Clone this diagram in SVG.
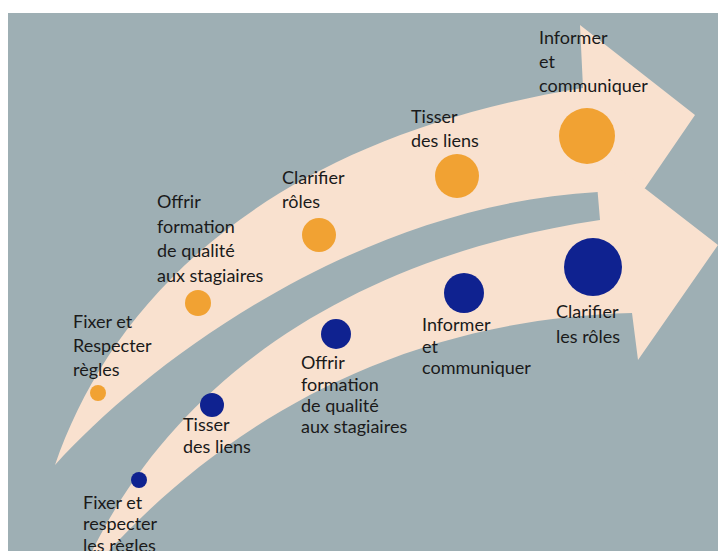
<svg xmlns="http://www.w3.org/2000/svg" width="718" height="551" viewBox="0 0 718 551">
<style>
.bg{fill:#9eafb4}
.arrow{fill:#f9e1cf}
.o{fill:#f1a233}
.n{fill:#0f2290}
text{font-family:Lato,"Open Sans","DejaVu Sans",sans-serif;font-size:18px;fill:#1a1a1a}
</style>
<rect x="0" y="0" width="718" height="551" fill="#ffffff"/>
<rect class="bg" x="8" y="13" width="710" height="538"/>
<g id="connectors">
<path class="arrow" d="M55,465 C110,305 260,140 583,88 L580,25 L695,115 L645,188 L598,192 C360,205 150,360 55,465 Z"/>
<path class="arrow" d="M75,590 C150,400 330,260 600,220 L594,149 L718,245 L638,360 L632,313 C360,320 180,460 75,590 Z"/>
</g>
<g id="o1"><circle class="o" cx="98" cy="393" r="8"/><text x="73" y="328">Fixer et</text><text x="73" y="352">Respecter</text><text x="73" y="376">règles</text></g>
<g id="o2"><circle class="o" cx="198" cy="303" r="13"/><text x="157" y="208">Offrir</text><text x="157" y="233">formation</text><text x="157" y="257">de qualité</text><text x="157" y="282">aux stagiaires</text></g>
<g id="o3"><circle class="o" cx="319" cy="235" r="17"/><text x="282" y="184">Clarifier</text><text x="282" y="208">rôles</text></g>
<g id="o4"><circle class="o" cx="457" cy="176" r="22"/><text x="411" y="123">Tisser</text><text x="411" y="147">des liens</text></g>
<g id="o5"><circle class="o" cx="587" cy="136" r="28"/><text x="539" y="44">Informer</text><text x="539" y="68">et</text><text x="539" y="92">communiquer</text></g>
<g id="n1"><circle class="n" cx="139" cy="480" r="8"/><text x="83" y="509">Fixer et</text><text x="83" y="530">respecter</text><text x="83" y="552">les règles</text></g>
<g id="n2"><circle class="n" cx="212" cy="405" r="12"/><text x="183" y="431">Tisser</text><text x="183" y="453">des liens</text></g>
<g id="n3"><circle class="n" cx="336" cy="334" r="15"/><text x="301" y="369">Offrir</text><text x="301" y="391">formation</text><text x="301" y="412">de qualité</text><text x="301" y="433">aux stagiaires</text></g>
<g id="n4"><circle class="n" cx="464" cy="293" r="20"/><text x="422" y="331">Informer</text><text x="422" y="353">et</text><text x="422" y="374">communiquer</text></g>
<g id="n5"><circle class="n" cx="593" cy="267" r="29"/><text x="556" y="318">Clarifier</text><text x="556" y="343">les rôles</text></g>
</svg>
